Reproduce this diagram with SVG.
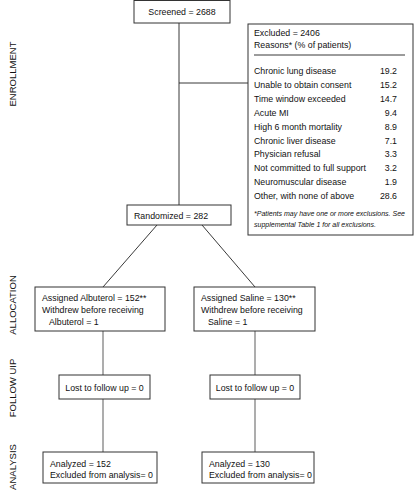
<svg xmlns="http://www.w3.org/2000/svg" width="415" height="493" viewBox="0 0 415 493">
<style>
.bx{fill:#fff;stroke:#333;stroke-width:1}
.t{font-family:"Liberation Sans",Arial,sans-serif;font-size:8.8px;fill:#111}
.fn{font-family:"Liberation Sans",Arial,sans-serif;font-size:7px;font-style:italic;fill:#111}
.lab{font-family:"Liberation Sans",Arial,sans-serif;font-size:9.5px;fill:#111}
.ln{stroke:#222;stroke-width:0.9;fill:none}
.gl{stroke:#999;stroke-width:1.6;fill:none}
</style>
<rect width="415" height="493" fill="#fff"/>
<g id="stage-labels">
<text class="lab" transform="translate(15.5,74) rotate(-90)" text-anchor="middle">ENROLLMENT</text>
<text class="lab" transform="translate(15.5,305) rotate(-90)" text-anchor="middle">ALLOCATION</text>
<text class="lab" transform="translate(15.5,388) rotate(-90)" text-anchor="middle">FOLLOW UIP</text>
<text class="lab" transform="translate(15.5,467) rotate(-90)" text-anchor="middle">ANALYSIS</text>
</g>
<g id="connectors">
<line class="ln" x1="179" y1="23" x2="179" y2="205"/>
<line class="ln" x1="179" y1="83" x2="248" y2="83"/>
<line class="ln" x1="157" y1="225" x2="103" y2="287"/>
<line class="ln" x1="202" y1="225" x2="255" y2="287"/>
<line class="gl" x1="103" y1="331" x2="103" y2="375"/>
<line class="gl" x1="103" y1="399" x2="103" y2="452"/>
<line class="gl" x1="255" y1="331" x2="255" y2="375"/>
<line class="gl" x1="255" y1="399" x2="255" y2="452"/>
</g>
<g id="screened">
<rect class="bx" x="134" y="0.5" width="96" height="22.5"/>
<text class="t" x="182" y="15" text-anchor="middle">Screened = 2688</text>
</g>
<g id="excluded">
<rect class="bx" x="248" y="24" width="165" height="211"/>
<text class="t" x="254" y="36">Excluded = 2406</text>
<text class="t" x="254" y="48">Reasons* (% of patients)</text>
<line class="ln" x1="254" y1="55" x2="405" y2="55"/>
<g class="t">
<text x="254" y="74">Chronic lung disease</text><text x="397" y="74" text-anchor="end">19.2</text>
<text x="254" y="87.9">Unable to obtain consent</text><text x="397" y="87.9" text-anchor="end">15.2</text>
<text x="254" y="101.8">Time window exceeded</text><text x="397" y="101.8" text-anchor="end">14.7</text>
<text x="254" y="115.7">Acute MI</text><text x="397" y="115.7" text-anchor="end">9.4</text>
<text x="254" y="129.6">High 6 month mortality</text><text x="397" y="129.6" text-anchor="end">8.9</text>
<text x="254" y="143.5">Chronic liver disease</text><text x="397" y="143.5" text-anchor="end">7.1</text>
<text x="254" y="157.4">Physician refusal</text><text x="397" y="157.4" text-anchor="end">3.3</text>
<text x="254" y="171.3">Not committed to full support</text><text x="397" y="171.3" text-anchor="end">3.2</text>
<text x="254" y="185.2">Neuromuscular disease</text><text x="397" y="185.2" text-anchor="end">1.9</text>
<text x="254" y="199.1">Other, with none of above</text><text x="397" y="199.1" text-anchor="end">28.6</text>
</g>
<text class="fn" x="254" y="216">*Patients may have one or more exclusions. See</text>
<text class="fn" x="254" y="227">supplemental Table 1 for all exclusions.</text>
</g>
<g id="randomized">
<rect class="bx" x="127" y="205" width="104" height="20"/>
<text class="t" x="134" y="218.5">Randomized = 282</text>
</g>
<g id="albuterol">
<rect class="bx" x="35" y="287" width="130" height="44"/>
<text class="t" x="42" y="300.5">Assigned Albuterol = 152**</text>
<text class="t" x="42" y="312.5">Withdrew before receiving</text>
<text class="t" x="49" y="324.5">Albuterol = 1</text>
</g>
<g id="saline">
<rect class="bx" x="194" y="287" width="121" height="44"/>
<text class="t" x="201" y="300.5">Assigned Saline = 130**</text>
<text class="t" x="201" y="312.5">Withdrew before receiving</text>
<text class="t" x="208" y="324.5">Saline = 1</text>
</g>
<g id="lost-albuterol">
<rect class="bx" x="59" y="375" width="91" height="24"/>
<text class="t" x="104.5" y="390.5" text-anchor="middle">Lost to follow up = 0</text>
</g>
<g id="lost-saline">
<rect class="bx" x="210" y="375" width="90" height="24"/>
<text class="t" x="255" y="390.5" text-anchor="middle">Lost to follow up = 0</text>
</g>
<g id="analyzed-albuterol">
<rect class="bx" x="43" y="452" width="114" height="31"/>
<text class="t" x="50" y="466.5">Analyzed = 152</text>
<text class="t" x="50" y="478">Excluded from analysis= 0</text>
</g>
<g id="analyzed-saline">
<rect class="bx" x="202" y="452" width="112" height="31"/>
<text class="t" x="209" y="466.5">Analyzed = 130</text>
<text class="t" x="209" y="478">Excluded from analysis= 0</text>
</g>
</svg>
